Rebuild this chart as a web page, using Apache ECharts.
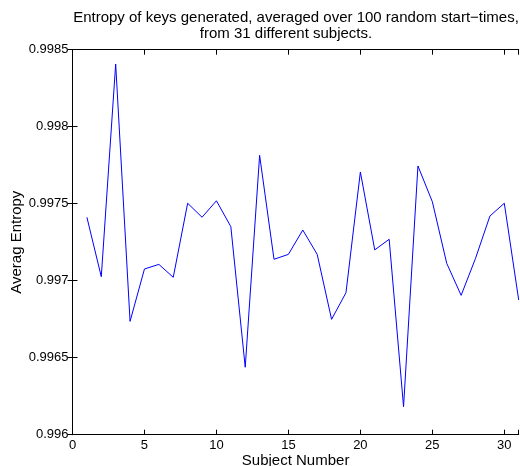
<!DOCTYPE html>
<html>
<head>
<meta charset="utf-8">
<script src="https://cdn.jsdelivr.net/npm/echarts@6/dist/echarts.min.js"></script>
<style>html,body{margin:0;padding:0;background:#fff}#c{width:520px;height:466px}</style>
</head>
<body>
<div id="c"></div>
<script>
const subjects = [1,2,3,4,5,6,7,8,9,10,11,12,13,14,15,16,17,18,19,20,21,22,23,24,25,26,27,28,29,30,31];
const entropy = [0.997412,0.997026,0.998407,0.996736,0.997076,0.997106,0.997022,0.997503,0.997412,0.997519,
  0.997351,0.996438,0.997814,0.997139,0.997171,0.997329,0.997171,0.996749,0.996922,0.997706,
  0.997200,0.997269,0.996182,0.997745,0.997513,0.997113,0.996905,0.997145,0.997420,0.997503,0.996875];
const yTicks = ['0.996','0.9965','0.997','0.9975','0.998','0.9985'];
const titleLines = ['Entropy of keys generated, averaged over 100 random start\u2212times,', 'from 31 different subjects.'];

const font = 'Liberation Sans, Arial, Helvetica, sans-serif';
const chart = echarts.init(document.getElementById('c'), null, {renderer: 'canvas'});
const axisLine = {show: true, lineStyle: {color: '#000', width: 1}};
const tick = {show: true, inside: true, length: 5, lineStyle: {color: '#000'}};
const titleStyle = {fontFamily: font, fontSize: 15, fontWeight: 'normal', color: '#000'};
chart.setOption({
  animation: false,
  backgroundColor: '#fff',
  title: [
    {text: titleLines[0], left: 296, top: 10, textAlign: 'center', padding: 0, textStyle: titleStyle},
    {text: titleLines[1], left: 286, top: 26, textAlign: 'center', padding: 0, textStyle: titleStyle}
  ],
  grid: {left: 72.5, right: 1.3, top: 49.7, bottom: 31.3, containLabel: false, outerBoundsMode: 'none'},
  xAxis: [{
    type: 'value', min: 0, max: 31, interval: 5,
    name: 'Subject Number', nameLocation: 'middle', nameGap: 19, nameMoveOverlap: false,
    nameTextStyle: {fontFamily: font, fontSize: 15, color: '#000'},
    axisLine: axisLine, axisTick: tick, splitLine: {show: false},
    axisLabel: {fontFamily: font, fontSize: 13, color: '#000', margin: 4,
      formatter: v => (v % 5 === 0 ? String(v) : '')}
  }, {
    type: 'value', min: 0, max: 31, interval: 5, position: 'top',
    axisLine: axisLine, axisTick: tick, axisLabel: {show: false}, splitLine: {show: false}
  }],
  yAxis: [{
    type: 'value', min: 0.996, max: 0.9985, interval: 0.0005,
    name: 'Averag Entropy', nameLocation: 'middle', nameGap: 48, nameRotate: 90, nameMoveOverlap: false,
    nameTextStyle: {fontFamily: font, fontSize: 15, color: '#000'},
    axisLine: axisLine, axisTick: tick, splitLine: {show: false},
    axisLabel: {fontFamily: font, fontSize: 13, color: '#000', margin: 4,
      formatter: v => { const i = Math.round((v - 0.996) / 0.0005); return yTicks[i] || ''; }}
  }, {
    type: 'value', min: 0.996, max: 0.9985, interval: 0.0005, position: 'right',
    axisLine: axisLine, axisTick: tick, axisLabel: {show: false}, splitLine: {show: false}
  }],
  series: [{
    type: 'line',
    data: subjects.map((s, i) => [s, entropy[i]]),
    showSymbol: false, symbol: 'none',
    lineStyle: {color: '#0000ff', width: 1},
    clip: true
  }]
});
</script>
</body>
</html>
